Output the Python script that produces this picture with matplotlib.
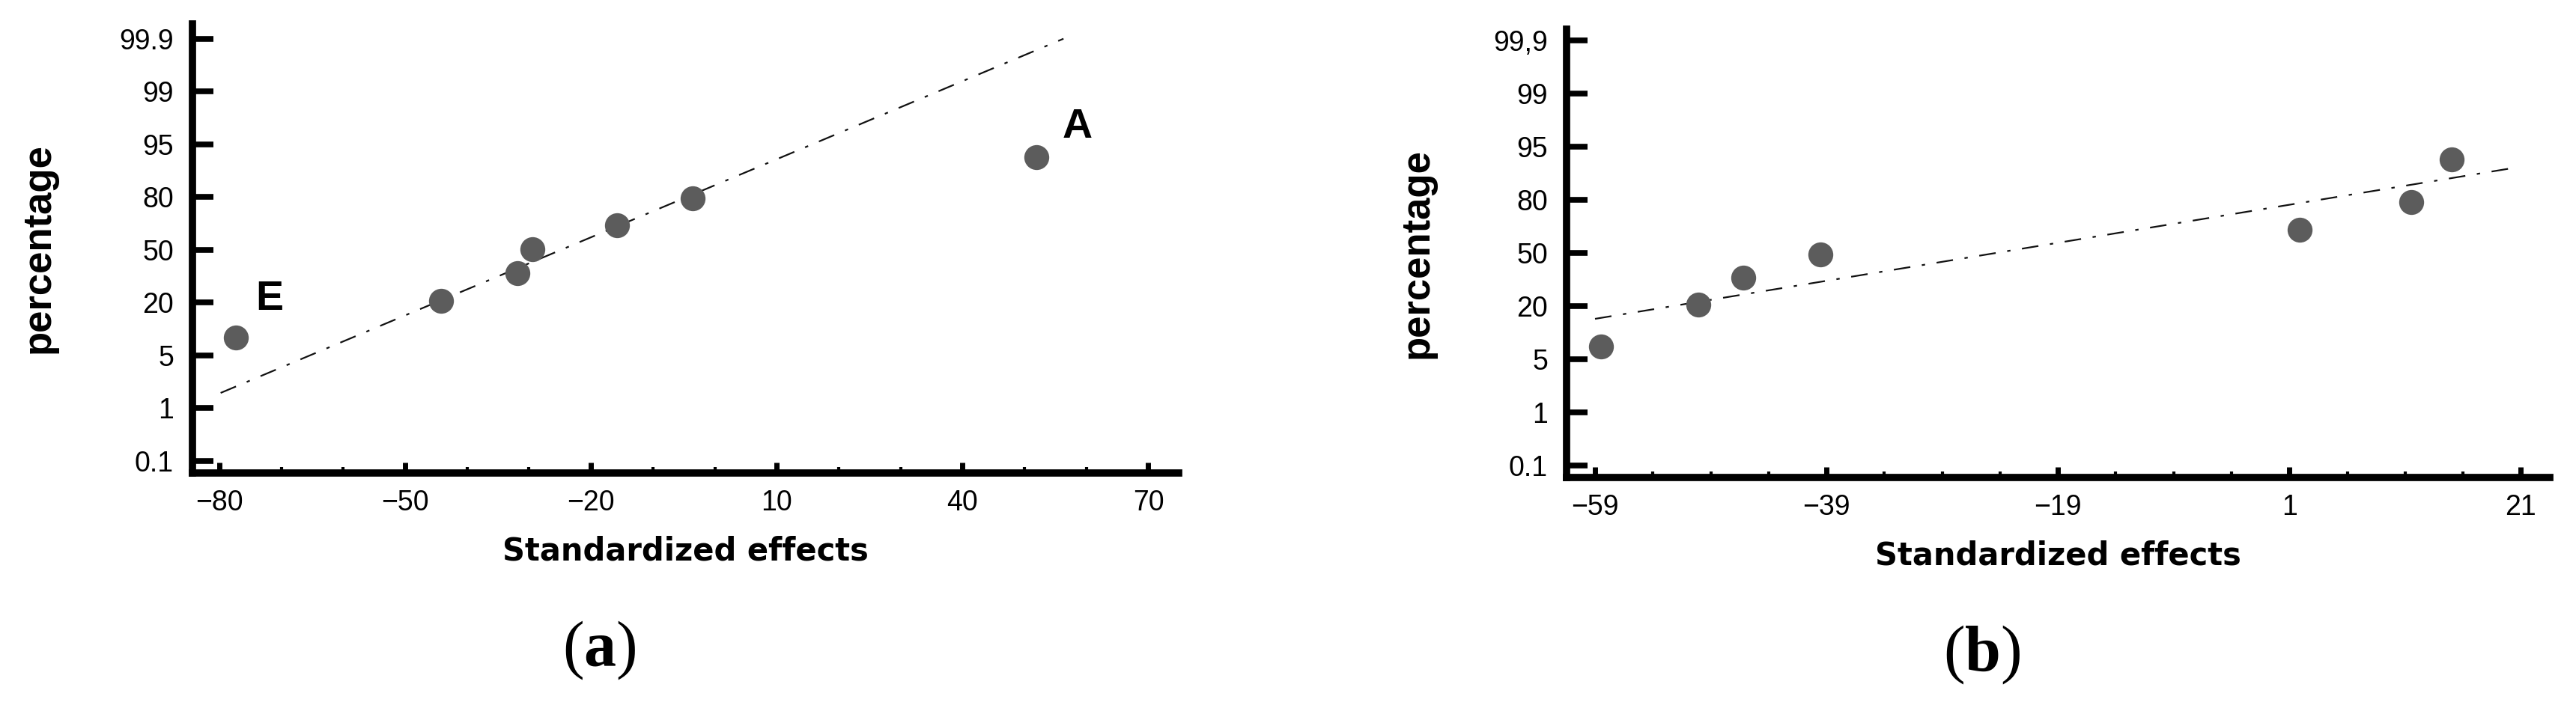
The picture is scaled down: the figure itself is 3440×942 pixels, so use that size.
import matplotlib
matplotlib.use("Agg")
import matplotlib.pyplot as plt
import numpy as np

plt.rcParams['mathtext.fontset'] = 'custom'
plt.rcParams['mathtext.rm'] = 'Liberation Serif'
plt.rcParams['mathtext.bf'] = 'Liberation Serif:bold'

# escala de probabilidade (rótulos igualmente espaçados)
pct_ticks = [0.1, 1, 5, 20, 50, 80, 95, 99, 99.9]
pct_labels_a = ["0.1", "1", "5", "20", "50", "80", "95", "99", "99.9"]
pct_labels_b = ["0.1", "1", "5", "20", "50", "80", "95", "99", "99,9"]

# painel (a)
efeitos_a = [-77.3, -44.2, -31.9, -29.5, -15.8, -3.6, 51.9]
pct_a = [10.1, 21.2, 36.8, 50.3, 64.1, 79.4, 91.4]
reta_a_x = [-79.8, 56.3]
reta_a_y = [2.16, 99.9]
rotulos_a = [("E", -71.9, 21.8), ("A", 58.5, 96.3)]
xticks_a = [-80, -50, -20, 10, 40, 70]

# painel (b)
efeitos_b = [-58.5, -50.1, -46.2, -39.5, 1.9, 11.5, 15.0]
pct_b = [8.6, 20.9, 36.1, 49.1, 63.2, 78.8, 91.4]
reta_b_x = [-59.0, 20.2]
reta_b_y = [16.4, 88.9]
xticks_b = [-59, -39, -19, 1, 21]

POS = np.arange(len(pct_ticks), dtype=float)
PCT = np.array(pct_ticks)


def fwd(p):
    p = np.asarray(p, dtype=float)
    out = np.interp(p, PCT, POS)
    out = np.where(p < PCT[0], (p - PCT[0]) / (PCT[1] - PCT[0]), out)
    out = np.where(p > PCT[-1], POS[-1] + (p - PCT[-1]) / (PCT[-1] - PCT[-2]), out)
    return out


def inv(y):
    y = np.asarray(y, dtype=float)
    out = np.interp(y, POS, PCT)
    out = np.where(y < 0, PCT[0] + y * (PCT[1] - PCT[0]), out)
    out = np.where(y > POS[-1], PCT[-1] + (y - POS[-1]) * (PCT[-1] - PCT[-2]), out)
    return out


def painel(ax, xs, ys, rx, ry, xticks, minor, labels, xlim, ylim_pos, ylab_x):
    ax.set_yscale('function', functions=(fwd, inv))
    ax.plot(rx, ry, color='#111111', lw=1.6, linestyle=(0, (10, 7, 2, 7)), zorder=2)
    ax.plot(xs, ys, 'o', color='#5c5c5c', markersize=24, markeredgewidth=0, zorder=3)
    ax.set_xlim(*xlim)
    ax.set_ylim(float(inv(ylim_pos[0])), float(inv(ylim_pos[1])))
    ax.set_yticks(pct_ticks)
    ax.set_yticklabels(labels)
    ax.set_xticks(xticks)
    ax.set_xticks(minor, minor=True)
    ax.yaxis.set_minor_locator(matplotlib.ticker.NullLocator())
    for s in ['top', 'right']:
        ax.spines[s].set_visible(False)
    for s in ['left', 'bottom']:
        ax.spines[s].set_linewidth(7)
        ax.spines[s].set_capstyle('projecting')
    ax.tick_params(axis='y', direction='in', length=20, width=5.5, pad=18,
                   labelsize=27, labelfontfamily='Liberation Sans')
    ax.tick_params(axis='x', which='major', direction='in', length=10, width=5, pad=16,
                   labelsize=27, labelfontfamily='Liberation Sans')
    ax.tick_params(axis='x', which='minor', direction='in', length=6, width=3)
    ax.set_xlabel("Standardized effects", fontsize=30, fontweight='bold',
                  family='DejaVu Sans', labelpad=18)
    ax.set_ylabel("percentage", fontsize=38, fontweight='bold',
                  family='Liberation Sans', va='center')
    ax.yaxis.set_label_coords(ylab_x, 0.5)
    ax.patch.set_alpha(0)


fig = plt.figure(figsize=(34.41, 9.42), dpi=100)
ax1 = fig.add_axes([0.07469, 0.32909, 0.38274, 0.63694])
ax2 = fig.add_axes([0.60796, 0.32272, 0.38157, 0.63588])

painel(ax1, efeitos_a, pct_a, reta_a_x, reta_a_y, xticks_a,
       np.arange(-80, 71, 10), pct_labels_a, (-84.35, 74.9), (-0.227, 8.28), -0.156)
for txt, x, y in rotulos_a:
    ax1.text(x, y, txt, fontsize=40, fontweight='bold', family='Liberation Sans',
             ha='center', va='center')

painel(ax2, efeitos_b, pct_b, reta_b_x, reta_b_y, xticks_b,
       np.arange(-59, 22, 5), pct_labels_b, (-61.46, 23.5), (-0.225, 8.21), -0.152)

fig.text(800 / 3441, 1 - 869 / 942, r"($\mathbf{a}$)", fontsize=62,
         family='Liberation Serif', ha='center', va='center')
fig.text(2647 / 3441, 1 - 875 / 942, r"($\mathbf{b}$)", fontsize=62,
         family='Liberation Serif', ha='center', va='center')

fig.savefig("out.png", dpi=100)
